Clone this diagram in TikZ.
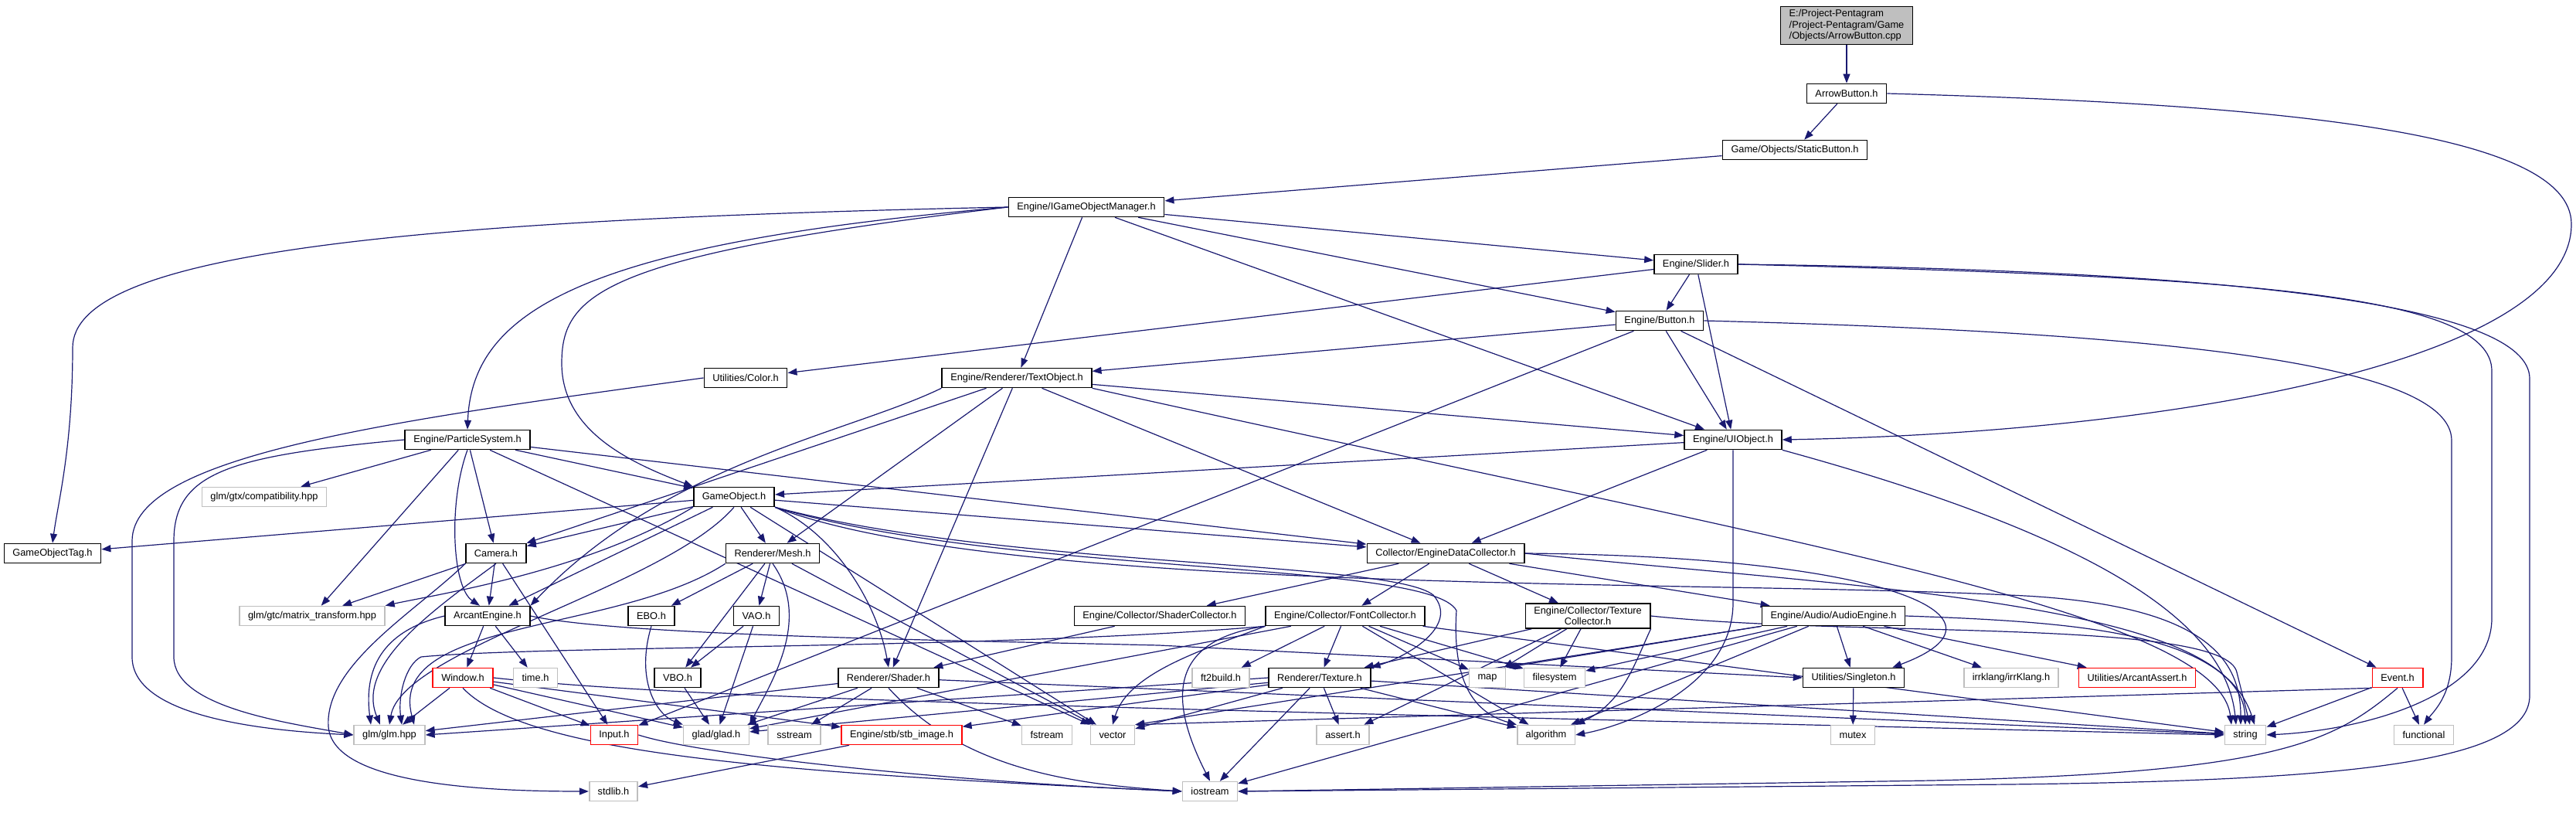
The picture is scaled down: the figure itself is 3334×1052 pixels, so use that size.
\documentclass[tikz,border=0pt]{standalone}
\usepackage{fontspec}
\setmainfont{Liberation Sans}
\usepackage{tikz}
\usetikzlibrary{arrows.meta,backgrounds}
\definecolor{edgeblue}{RGB}{25,25,112}
\definecolor{sysgray}{RGB}{191,191,191}

\begin{document}
\begin{tikzpicture}[x=0.5pt,y=-0.5pt,
    font=\fontsize{6.4}{7.25}\selectfont,
    hdr/.style={draw=black,line width=0.8pt,fill=white,inner xsep=5.5pt,inner ysep=0pt,minimum height=12.5pt},
    sys/.style={hdr,draw=sysgray},
    nofile/.style={hdr,draw=red},
    srcfile/.style={hdr,fill=sysgray,align=left,inner ysep=2pt},
    inc/.style={edgeblue,line width=0.6pt,-{Triangle[length=6pt,width=4.5pt]}}]
    \useasboundingbox (0,0) rectangle (3334,1052);

    % Source file and the headers above the engine
    \node[srcfile] (main) at (2390,33) {E:/Project-Pentagram\\/Project-Pentagram/Game\\/Objects/ArrowButton.cpp};
    \node[hdr] (arrowbtn) at (2390,121) {ArrowButton.h};
    \node[hdr] (staticbtn) at (2323,194) {Game/Objects/StaticButton.h};
    \node[hdr] (igom) at (1406,268) {Engine/IGameObjectManager.h};
    \node[hdr] (slider) at (2195,342) {Engine/Slider.h};
    \node[hdr] (button) at (2148,415) {Engine/Button.h};
    \node[hdr] (color) at (965,489) {Utilities/Color.h};
    \node[hdr] (textobj) at (1316,489) {Engine/Renderer/TextObject.h};
    \node[hdr] (particle) at (605,569) {Engine/ParticleSystem.h};
    \node[hdr] (uiobj) at (2243,569) {Engine/UIObject.h};

    % Engine headers
    \node[sys] (compat) at (342,643) {glm/gtx/compatibility.hpp};
    \node[hdr] (gameobj) at (950,643) {GameObject.h};
    \node[hdr] (tag) at (68,716) {GameObjectTag.h};
    \node[hdr] (camera) at (642,716) {Camera.h};
    \node[hdr] (mesh) at (1000,716) {Renderer/Mesh.h};
    \node[hdr] (edc) at (1871,716) {Collector/EngineDataCollector.h};
    \node[sys] (matrix) at (404,797) {glm/gtc/matrix\_transform.hpp};
    \node[hdr] (arcant) at (631,797) {ArcantEngine.h};
    \node[hdr] (ebo) at (843,797) {EBO.h};
    \node[hdr] (vao) at (979,797) {VAO.h};
    \node[hdr] (shadercol) at (1501,797) {Engine/Collector/ShaderCollector.h};
    \node[hdr] (fontcol) at (1741,797) {Engine/Collector/FontCollector.h};
    \node[hdr,align=center,inner ysep=2pt] (texcol) at (2055,797) {Engine/Collector/Texture\\Collector.h};
    \node[hdr] (audio) at (2373,797) {Engine/Audio/AudioEngine.h};
    \node[nofile] (window) at (599,877) {Window.h};
    \node[sys] (time) at (693,877) {time.h};
    \node[hdr] (vbo) at (877,877) {VBO.h};
    \node[hdr] (shader) at (1150,877) {Renderer/Shader.h};
    \node[sys] (ft2) at (1580,877) {ft2build.h};
    \node[hdr] (texture) at (1708,877) {Renderer/Texture.h};
    \node[sys] (map) at (1925,877) {map};
    \node[sys] (filesystem) at (2012,877) {filesystem};
    \node[hdr] (singleton) at (2399,877) {Utilities/Singleton.h};
    \node[sys] (irrklang) at (2603,877) {irrklang/irrKlang.h};
    \node[nofile] (arcassert) at (2766,877) {Utilities/ArcantAssert.h};
    \node[nofile] (event) at (3103,877) {Event.h};

    % Bottom rows
    \node[sys] (glm) at (504,951) {glm/glm.hpp};
    \node[nofile] (input) at (795,951) {Input.h};
    \node[sys] (glad) at (927,951) {glad/glad.h};
    \node[sys] (sstream) at (1028,951) {sstream};
    \node[nofile] (stbimage) at (1167,951) {Engine/stb/stb\_image.h};
    \node[sys] (fstream) at (1355,951) {fstream};
    \node[sys] (vector) at (1440,951) {vector};
    \node[sys] (assert) at (1738,951) {assert.h};
    \node[sys] (algorithm) at (2001,951) {algorithm};
    \node[sys] (mutex) at (2398,951) {mutex};
    \node[sys] (string) at (2906,951) {string};
    \node[sys] (functional) at (3137,951) {functional};
    \node[sys] (stdlib) at (794,1024) {stdlib.h};
    \node[sys] (iostream) at (1566,1024) {iostream};

    \begin{pgfonlayer}{background}
    % Straight include edges
    \foreach \a/\b in {main/arrowbtn, arrowbtn/staticbtn, staticbtn/igom,
        igom/textobj, igom/slider, igom/button, igom/uiobj,
        slider/button, slider/color, slider/uiobj,
        button/textobj, button/uiobj, button/input, button/event,
        textobj/uiobj, textobj/camera, textobj/mesh, textobj/shader, textobj/edc,
        uiobj/gameobj, uiobj/edc,
        particle/gameobj, particle/compat, particle/matrix, particle/camera, particle/vector, particle/edc,
        gameobj/tag, gameobj/camera, gameobj/arcant, gameobj/mesh, gameobj/edc, gameobj/vector,
        camera/matrix, camera/arcant, camera/input,
        arcant/window, arcant/time,
        window/glm, window/input, window/glad, window/stbimage,
        stbimage/stdlib, vao/vbo, vao/glad, vbo/glad,
        mesh/ebo, mesh/vao, mesh/vbo, mesh/vector,
        shader/glm, shader/glad, shader/sstream, shader/fstream, shader/string,
        shadercol/shader,
        edc/shadercol, edc/fontcol, edc/texcol, edc/audio,
        fontcol/texture, fontcol/ft2, fontcol/map, fontcol/filesystem, fontcol/algorithm, fontcol/glad, fontcol/string,
        texcol/texture, texcol/map, texcol/filesystem, texcol/assert,
        audio/filesystem, audio/iostream, audio/singleton, audio/irrklang, audio/arcassert, audio/algorithm,
        texture/glad, texture/stbimage, texture/vector, texture/assert, texture/algorithm, texture/iostream, texture/string,
        singleton/mutex, event/string, event/functional}
        \draw[inc] (\a) -- (\b);

    % Edges that go round other boxes
    \draw[inc] (arrowbtn.east) .. controls (2950,135) and (3328,170) .. (3328,290) .. controls (3328,470) and (2800,560) .. (uiobj.east);
    \draw[inc] (igom.west) .. controls (500,285) and (94,330) .. (94,450) .. controls (94,580) and (75,650) .. (tag.north);
    \draw[inc] (igom.west) .. controls (760,315) and (611,400) .. (particle.north);
    \draw[inc] (igom.west) .. controls (780,330) and (727,380) .. (727,470) .. controls (727,560) and (820,600) .. (gameobj.north west);
    \draw[inc] (color.west) .. controls (500,545) and (171,590) .. (171,700) -- (171,850) .. controls (171,925) and (330,945) .. (glm.west);
    \draw[inc] (particle.west) .. controls (300,590) and (225,610) .. (225,700) -- (225,850) .. controls (225,915) and (370,935) .. (glm.west);
    \draw[inc] (particle.south) .. controls (580,650) and (585,760) .. ([xshift=-5pt]arcant.north);
    \draw[inc] (slider.east) .. controls (2900,358) and (3225,380) .. (3225,480) -- (3225,800) .. controls (3225,900) and (3060,945) .. (string.east);
    \draw[inc] (slider.east) .. controls (2900,350) and (3274,395) .. (3274,490) -- (3274,900) .. controls (3274,985) and (3050,1010) .. (2600,1015) -- (iostream.east);
    \draw[inc] (button.east) .. controls (2800,430) and (3173,470) .. (3173,570) -- (3173,850) .. controls (3173,900) and (3150,920) .. (functional.north);
    \draw[inc] (textobj.south west) .. controls (1100,560) and (860,600) .. (arcant.north east);
    \draw[inc] (textobj.south east) .. controls (2300,700) and (2870,790) .. ([xshift=-9pt]string.north);
    \draw[inc] (uiobj.south east) .. controls (2700,690) and (2880,800) .. ([xshift=-6pt]string.north);
    \draw[inc] (uiobj.south) -- (2243,780) .. controls (2243,890) and (2100,940) .. (algorithm.east);
    \draw[inc] (gameobj.south west) .. controls (760,740) and (560,770) .. (matrix.north east);
    \draw[inc] (gameobj.south) .. controls (860,760) and (520,840) .. (glm.north);
    \draw[inc] (gameobj.south east) .. controls (1080,690) and (1135,780) .. (shader.north);
    \draw[inc] (gameobj.south east) .. controls (1300,735) and (1800,725) .. (1855,770) .. controls (1890,810) and (1820,850) .. (texture.north east);
    \draw[inc] (gameobj.south east) .. controls (1300,745) and (1850,725) .. (1885,790) .. controls (1880,870) and (1900,920) .. (algorithm.north west);
    \draw[inc] (gameobj.south east) .. controls (1300,770) and (2200,750) .. (2600,770) .. controls (2850,780) and (2900,850) .. ([xshift=-3pt]string.north);
    \draw[inc] (camera.south) .. controls (560,790) and (460,860) .. ([xshift=-6pt]glm.north);
    \draw[inc] (camera.south west) .. controls (540,790) and (420,860) .. (425,940) .. controls (430,1010) and (600,1024) .. (stdlib.west);
    \draw[inc] (arcant.west) .. controls (500,815) and (470,860) .. ([xshift=-12pt]glm.north);
    \draw[inc] (arcant.east) .. controls (800,822) and (1200,828) .. (1500,835) -- (singleton.west);
    \draw[inc] (window.south) .. controls (680,975) and (1000,1000) .. (iostream.west);
    \draw[inc] (window.east) .. controls (900,905) and (1400,915) .. (string.west);
    \draw[inc] (input.east) .. controls (900,975) and (1200,1010) .. (iostream.west);
    \draw[inc] (ebo.south) .. controls (822,880) and (850,925) .. (glad.north west);
    \draw[inc] (mesh.south) .. controls (1050,800) and (1000,880) .. (glad.north east);
    \draw[inc] (mesh.south west) .. controls (800,820) and (500,800) .. ([xshift=16pt]glm.north);
    \draw[inc] (shader.south) .. controls (1250,1000) and (1400,1015) .. (iostream.west);
    \draw[inc] (edc.east) .. controls (2400,760) and (2900,780) .. (string.north);
    \draw[inc] (edc.east) .. controls (2450,720) and (2620,800) .. ([xshift=-8pt]singleton.north east);
    \draw[inc] (fontcol.south west) .. controls (1560,840) and (1460,870) .. (vector.north);
    \draw[inc] (fontcol.south west) .. controls (1500,830) and (1520,920) .. (iostream.north);
    \draw[inc] (fontcol.south west) .. controls (1300,840) and (700,835) .. (545,850) .. controls (525,860) and (515,900) .. ([xshift=8pt]glm.north);
    \draw[inc] (texture.west) -- (glm.east);
    \draw[inc] (texcol.south east) .. controls (2115,860) and (2100,910) .. (algorithm.north east);
    \draw[inc] (texcol.east) .. controls (2400,825) and (2880,800) .. (2895,870) -- ([xshift=3pt]string.north);
    \draw[inc] (audio.east) .. controls (2700,805) and (2880,820) .. ([xshift=6pt]string.north);
    \draw[inc] (audio.south west) -- (map.north east);
    \draw[inc] (audio.south west) -- (vector.north east);
    \draw[inc] (event.south west) -- (vector.north east);
    \draw[inc] (event.south) .. controls (3020,960) and (2950,1000) .. (2500,1010) -- (iostream.east);
    \end{pgfonlayer}
\end{tikzpicture}
\end{document}
